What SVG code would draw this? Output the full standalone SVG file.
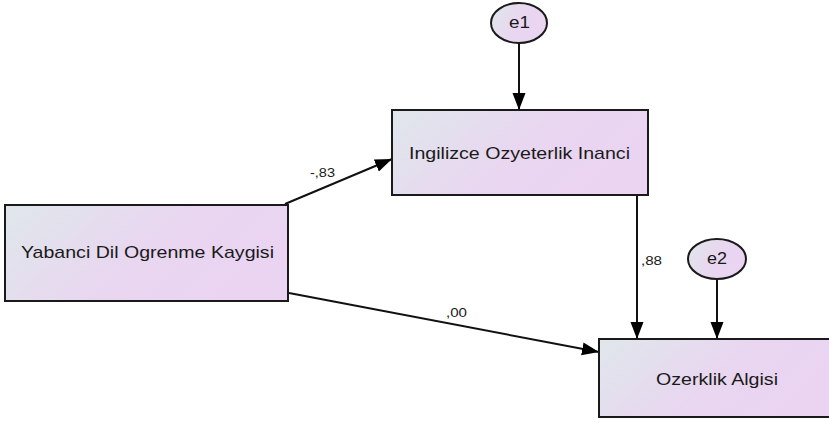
<svg xmlns="http://www.w3.org/2000/svg" width="829" height="422" viewBox="0 0 829 422">
<style>
.box{stroke:#1a1a1a;stroke-width:2;fill:url(#g)}
.ell{stroke:#1a1a1a;stroke-width:2;fill:url(#g)}
.t{font-family:"Liberation Sans",Arial,sans-serif;font-size:17px;fill:#1a1a1a}
.lb{font-family:"Liberation Sans",Arial,sans-serif;font-size:12px;fill:#1a1a1a}
.c{stroke:#111;stroke-width:2;fill:none;marker-end:url(#ah)}
</style>
<defs>
<linearGradient id="g" x1="0" y1="0" x2="1" y2="0.35">
<stop offset="0" stop-color="#dfe7eb"/>
<stop offset="0.6" stop-color="#e9d6f0"/>
<stop offset="1" stop-color="#ead4f2"/>
</linearGradient>
<marker id="ah" markerUnits="userSpaceOnUse" markerWidth="18" markerHeight="14" refX="17" refY="6.5" orient="auto">
<path d="M0,0 L17,6.5 L0,13 z" fill="#000"/>
</marker>
</defs>
<rect width="829" height="422" fill="#fff"/>
<g id="connectors">
<line class="c" x1="519" y1="43" x2="519" y2="110"/>
<line class="c" x1="637" y1="195" x2="637" y2="339"/>
<line class="c" x1="717" y1="279" x2="717" y2="339"/>
<line class="c" x1="285" y1="204" x2="392" y2="159"/>
<line class="c" x1="289" y1="293" x2="599" y2="352"/>
<text class="lb" x="310" y="177" textLength="25" lengthAdjust="spacingAndGlyphs">-,83</text>
<text class="lb" x="641" y="265" textLength="21" lengthAdjust="spacingAndGlyphs">,88</text>
<text class="lb" x="446" y="317" textLength="21" lengthAdjust="spacingAndGlyphs">,00</text>
</g>
<g id="yabanci">
<rect class="box" x="5" y="205" width="283" height="96"/>
<text class="t" x="21" y="258" textLength="253" lengthAdjust="spacingAndGlyphs">Yabanci Dil Ogrenme Kaygisi</text>
</g>
<g id="ingilizce">
<rect class="box" x="392" y="110" width="256" height="85"/>
<text class="t" x="409" y="159" textLength="221" lengthAdjust="spacingAndGlyphs">Ingilizce Ozyeterlik Inanci</text>
</g>
<g id="ozerklik">
<rect class="box" x="599" y="339" width="240" height="78"/>
<text class="t" x="656" y="385" textLength="122" lengthAdjust="spacingAndGlyphs">Ozerklik Algisi</text>
</g>
<g id="e1">
<ellipse class="ell" cx="519" cy="23" rx="28" ry="20"/>
<text class="t" x="509" y="28" textLength="21" lengthAdjust="spacingAndGlyphs">e1</text>
</g>
<g id="e2">
<ellipse class="ell" cx="717" cy="259" rx="29" ry="20"/>
<text class="t" x="707" y="264" textLength="20" lengthAdjust="spacingAndGlyphs">e2</text>
</g>
</svg>
